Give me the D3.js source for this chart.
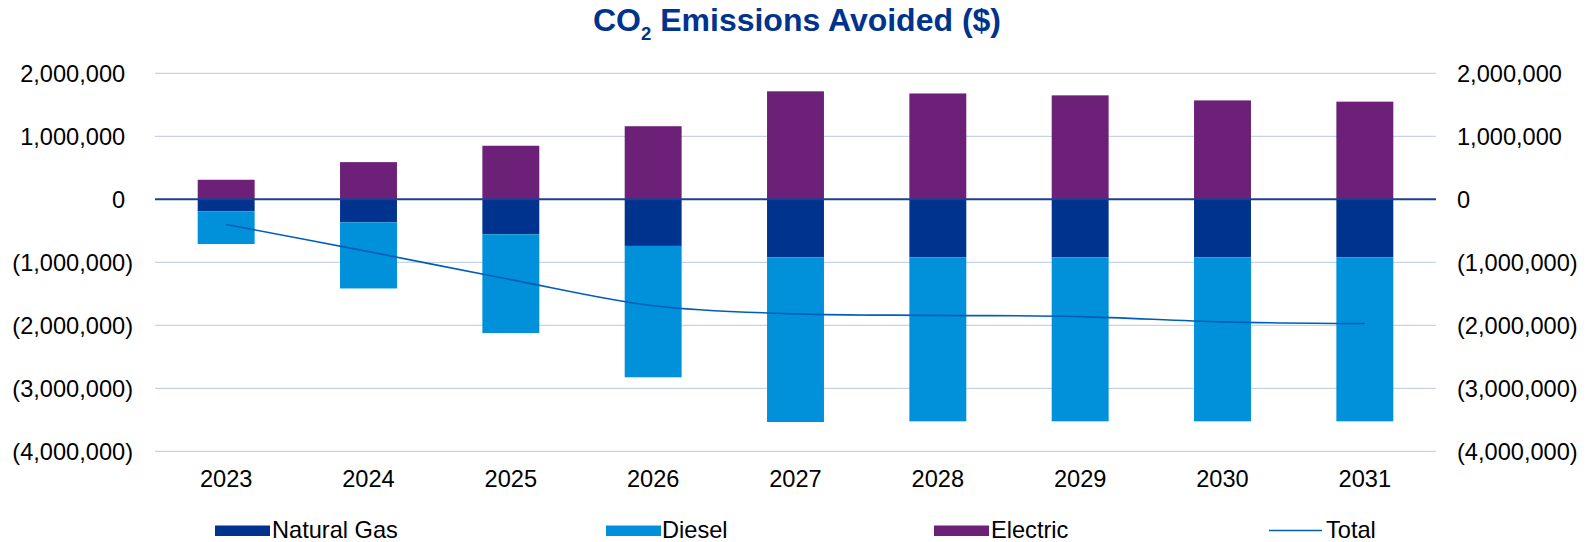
<!DOCTYPE html>
<html>
<head>
<meta charset="utf-8">
<script src="https://cdn.jsdelivr.net/npm/d3@7"></script>
<style>
  html, body { margin: 0; padding: 0; background: #fff; }
  svg { display: block; font-family: "Liberation Sans", Arial, sans-serif; }
</style>
</head>
<body>
<svg id="chart" width="1593" height="542"></svg>
<script>
// ---- data ----
const years = ["2023", "2024", "2025", "2026", "2027", "2028", "2029", "2030", "2031"];
const naturalGas = [-190000, -365000, -556000, -740000, -920000, -920000, -920000, -920000, -920000];
const diesel = [-520000, -1050000, -1566000, -2085000, -2615000, -2604000, -2604000, -2604000, -2604000];
const electric = [310000, 590000, 850000, 1160000, 1714000, 1680000, 1650000, 1570000, 1550000];
const total = [-400000, -830000, -1275000, -1690000, -1818000, -1842000, -1862000, -1945000, -1972000];
const yTicks = [2000000, 1000000, 0, -1000000, -2000000, -3000000, -4000000];
const seriesNames = ["Natural Gas", "Diesel", "Electric", "Total"];

(function () {
// ---- styles ----
const colors = { ng: "#00338D", diesel: "#0091DA", electric: "#6D2077", total: "#005EB8" };
const svg = d3.select("#chart");
const pLeft = 155, pRight = 1436, pTop = 73.3, pBottom = 451.3;
const fs = 23.6;

const x = d3.scaleBand().domain(years).range([pLeft, pRight]).paddingInner(0.6).paddingOuter(0.3);
const y = d3.scaleLinear().domain([-4000000, 2000000]).range([pBottom, pTop]);

const fmt = d3.format(",");
const label = v => v < 0 ? "(" + fmt(-v) + ")" : fmt(v);

// title
const title = svg.append("text")
  .attr("x", 797).attr("y", 31)
  .attr("text-anchor", "middle")
  .attr("fill", "#00338D")
  .attr("font-weight", "bold")
  .attr("font-size", 32);
title.append("tspan").text("CO");
title.append("tspan").attr("font-size", 18.5).attr("dy", 9).text("2");
title.append("tspan").attr("dy", -9).text(" Emissions Avoided ($)");

// gridlines
svg.append("g").selectAll("line")
  .data(yTicks.filter(d => d !== 0))
  .join("line")
  .attr("x1", pLeft).attr("x2", pRight)
  .attr("y1", d => y(d)).attr("y2", d => y(d))
  .attr("stroke", "#c6d2e6").attr("stroke-width", 1.3);

// left axis labels (right aligned, parentheses hang out)
const leftAxis = svg.append("g");
yTicks.forEach(v => {
  const t = leftAxis.append("text")
    .attr("x", 133).attr("y", y(v))
    .attr("dy", "0.36em")
    .attr("text-anchor", "end")
    .attr("font-size", fs)
    .attr("fill", "#000");
  t.append("tspan").text(label(v));
  if (v >= 0) t.append("tspan").attr("fill-opacity", 0).text(")");
});

// right axis labels (left aligned)
svg.append("g").selectAll("text")
  .data(yTicks)
  .join("text")
  .attr("x", 1457).attr("y", d => y(d))
  .attr("dy", "0.36em")
  .attr("font-size", fs)
  .attr("fill", "#000")
  .text(d => label(d));

// bars
const bw = x.bandwidth();
const g = svg.append("g");
years.forEach((yr, i) => {
  const x0 = x(yr);
  g.append("rect").attr("x", x0).attr("width", bw)
    .attr("y", y(electric[i])).attr("height", y(0) - y(electric[i]))
    .attr("fill", colors.electric);
  g.append("rect").attr("x", x0).attr("width", bw)
    .attr("y", y(0)).attr("height", y(naturalGas[i]) - y(0))
    .attr("fill", colors.ng);
  g.append("rect").attr("x", x0).attr("width", bw)
    .attr("y", y(naturalGas[i])).attr("height", y(naturalGas[i] + diesel[i]) - y(naturalGas[i]))
    .attr("fill", colors.diesel);
});

// zero line
svg.append("line")
  .attr("x1", pLeft).attr("x2", pRight)
  .attr("y1", y(0)).attr("y2", y(0))
  .attr("stroke", "#1d3f93").attr("stroke-width", 2);

// total line
const line = d3.line()
  .x((d, i) => x(years[i]) + bw / 2)
  .y(d => y(d))
  .curve(d3.curveCardinal.tension(0));
svg.append("path")
  .datum(total)
  .attr("d", line)
  .attr("fill", "none")
  .attr("stroke", colors.total)
  .attr("stroke-width", 1.6);

// x axis labels
svg.append("g").selectAll("text")
  .data(years)
  .join("text")
  .attr("x", d => x(d) + bw / 2)
  .attr("y", 487)
  .attr("text-anchor", "middle")
  .attr("font-size", fs)
  .attr("fill", "#000")
  .text(d => d);

// legend
const legendItems = [
  { name: seriesNames[0], color: colors.ng, type: "rect", sx: 215, tx: 272 },
  { name: seriesNames[1], color: colors.diesel, type: "rect", sx: 606, tx: 662 },
  { name: seriesNames[2], color: colors.electric, type: "rect", sx: 934, tx: 991 },
  { name: seriesNames[3], color: colors.total, type: "line", sx: 1269, tx: 1326 }
];
const lg = svg.append("g");
legendItems.forEach(it => {
  if (it.type === "rect") {
    lg.append("rect").attr("x", it.sx).attr("y", 525.5).attr("width", 55).attr("height", 10.5).attr("fill", it.color);
  } else {
    lg.append("line").attr("x1", it.sx).attr("x2", it.sx + 53).attr("y1", 530.5).attr("y2", 530.5)
      .attr("stroke", it.color).attr("stroke-width", 1.6);
  }
  lg.append("text").attr("x", it.tx).attr("y", 538)
    .attr("font-size", fs).attr("fill", "#000")
    .text(it.name);
});
})();
</script>
</body>
</html>
